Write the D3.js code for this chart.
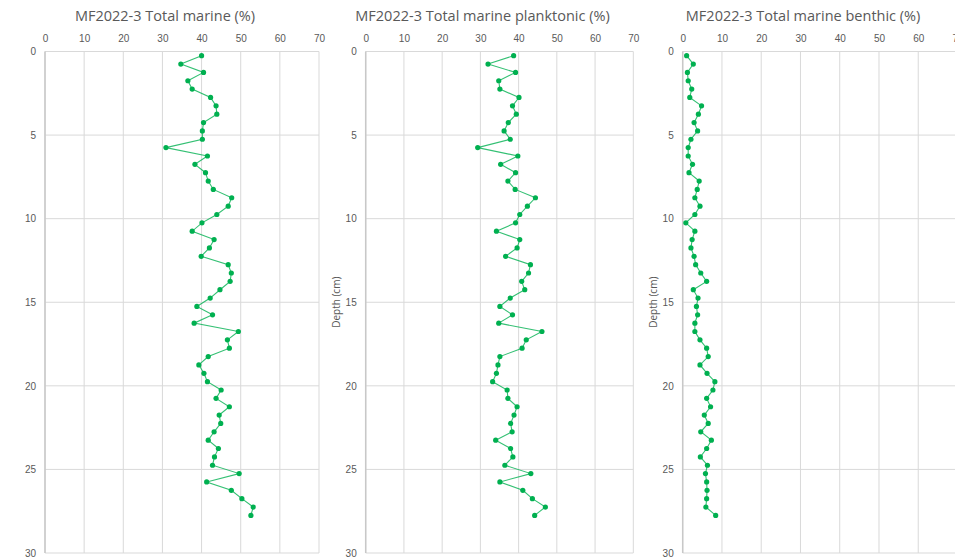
<!DOCTYPE html>
<html>
<head>
<meta charset="utf-8">
<script src="https://cdn.jsdelivr.net/npm/d3@7"></script>
<style>
  body { margin: 0; background: #fff; }
  svg { display: block; font-family: "Open Sans", "Noto Sans", sans-serif; }
  .tick text { fill: #595959; font-size: 10px; }
  .title { fill: #595959; font-size: 14.5px; }
  .ylabel { fill: #595959; font-size: 10px; }
</style>
</head>
<body>
<div id="chart"></div>
<script>
// depth of each sample (cm), mid-point of 0.5 cm slices
const depths = [
  0.25, 0.75, 1.25, 1.75, 2.25, 2.75, 3.25, 3.75, 4.25, 4.75,
  5.25, 5.75, 6.25, 6.75, 7.25, 7.75, 8.25, 8.75, 9.25, 9.75,
  10.25, 10.75, 11.25, 11.75, 12.25, 12.75, 13.25, 13.75, 14.25, 14.75,
  15.25, 15.75, 16.25, 16.75, 17.25, 17.75, 18.25, 18.75, 19.25, 19.75,
  20.25, 20.75, 21.25, 21.75, 22.25, 22.75, 23.25, 23.75, 24.25, 24.75,
  25.25, 25.75, 26.25, 26.75, 27.25, 27.75
];

const totalMarine = [
  40.0, 34.7, 40.5, 36.5, 37.6, 42.3, 43.7, 43.9, 40.5, 40.2,
  40.2, 30.9, 41.5, 38.3, 41.0, 41.7, 43.0, 47.7, 46.8, 43.9,
  40.1, 37.6, 43.2, 42.0, 39.9, 46.8, 47.6, 47.3, 44.7, 42.2,
  38.8, 42.8, 38.1, 49.4, 46.6, 47.1, 41.7, 39.3, 40.6, 41.5,
  45.0, 43.7, 47.1, 44.5, 44.9, 43.2, 41.7, 44.3, 43.3, 42.8,
  49.6, 41.3, 47.6, 50.3, 53.2, 52.6
];

const planktonic = [
  38.7, 32.0, 39.2, 34.8, 35.1, 40.1, 38.4, 39.4, 37.3, 36.2,
  37.8, 29.3, 39.8, 35.3, 39.2, 37.2, 39.1, 44.4, 42.3, 40.3,
  39.2, 34.2, 40.3, 39.6, 36.6, 43.1, 42.6, 40.8, 41.6, 37.8,
  35.1, 38.4, 34.8, 46.1, 42.0, 40.9, 35.1, 34.6, 34.2, 33.2,
  37.0, 37.2, 39.6, 38.8, 37.9, 38.3, 34.0, 37.9, 38.5, 36.4,
  43.2, 35.1, 41.1, 43.6, 47.0, 44.2
];

const benthic = [
  1.0, 2.7, 1.2, 1.4, 2.3, 1.8, 4.8, 4.0, 2.9, 3.8,
  2.1, 1.4, 1.4, 2.5, 1.6, 4.2, 3.7, 3.1, 4.4, 3.1,
  0.8, 3.1, 2.4, 2.1, 2.9, 3.3, 4.6, 6.1, 2.7, 3.9,
  3.5, 3.8, 3.1, 3.1, 4.4, 6.1, 6.5, 4.4, 6.2, 8.2,
  7.7, 6.1, 7.1, 5.5, 6.5, 4.6, 7.3, 6.1, 4.5, 6.3,
  5.8, 6.1, 6.2, 6.1, 5.9, 8.4
];

const titles = [
  "MF2022-3 Total marine (%)",
  "MF2022-3 Total marine planktonic (%)",
  "MF2022-3 Total marine benthic (%)"
];
const xTicks = [0, 10, 20, 30, 40, 50, 60, 70];
const yTicks = [0, 5, 10, 15, 20, 25, 30];

const W = 955, H = 558;
const svg = d3.select("#chart").append("svg")
  .attr("width", W).attr("height", H);

const panels = [
  {values: totalMarine, x0: 45, x1: 319, ylab: false},
  {values: planktonic, x0: 365.7, x1: 633.3, ylab: true},
  {values: benthic, x0: 682.7, x1: 957.5, ylab: true}
];
const plotTop = 51.5, plotBottom = 553;
const green = "#00b050";

const y = d3.scaleLinear().domain([0, 30]).range([plotTop, plotBottom]);

panels.forEach((p, i) => {
  const x = d3.scaleLinear().domain([0, 70]).range([p.x0, p.x1]);
  const g = svg.append("g");

  // grid
  g.append("g").selectAll("line").data(xTicks).join("line")
    .attr("x1", d => x(d)).attr("x2", d => x(d))
    .attr("y1", plotTop).attr("y2", plotBottom)
    .attr("stroke", "#d9d9d9").attr("stroke-width", 1);
  g.append("g").selectAll("line").data(yTicks).join("line")
    .attr("x1", p.x0).attr("x2", p.x1)
    .attr("y1", d => y(d)).attr("y2", d => y(d))
    .attr("stroke", "#d9d9d9").attr("stroke-width", 1);
  // left axis line
  g.append("line")
    .attr("x1", p.x0).attr("x2", p.x0).attr("y1", plotTop).attr("y2", plotBottom)
    .attr("stroke", "#c8c8c8").attr("stroke-width", 1.5);

  // top axis
  const xa = g.append("g").attr("transform", `translate(0,${plotTop})`)
    .call(d3.axisTop(x).tickValues(xTicks).tickSize(0).tickPadding(10));
  xa.select(".domain").remove();

  // left axis
  const ya = g.append("g").attr("transform", `translate(${p.x0},0)`)
    .call(d3.axisLeft(y).tickValues(yTicks).tickSize(0).tickPadding(9));
  ya.select(".domain").remove();

  // title
  g.append("text").attr("class", "title")
    .attr("x", (p.x0 + p.x1) / 2 - 17).attr("y", 21)
    .attr("text-anchor", "middle")
    .text(titles[i]);

  if (p.ylab) {
    g.append("text").attr("class", "ylabel")
      .attr("transform", `translate(${p.x0 - 26},${(plotTop + plotBottom) / 2}) rotate(-90)`)
      .attr("text-anchor", "middle")
      .text("Depth (cm)");
  }

  const pts = depths.map((d, k) => [p.values[k], d]);
  const line = d3.line().x(d => x(d[0])).y(d => y(d[1]));
  g.append("path").datum(pts)
    .attr("d", line)
    .attr("fill", "none")
    .attr("stroke", green)
    .attr("stroke-opacity", 0.8)
    .attr("stroke-width", 1.1);
  g.append("g").selectAll("circle").data(pts).join("circle")
    .attr("cx", d => x(d[0])).attr("cy", d => y(d[1]))
    .attr("r", 2.6)
    .attr("fill", green);
});
</script>
</body>
</html>
